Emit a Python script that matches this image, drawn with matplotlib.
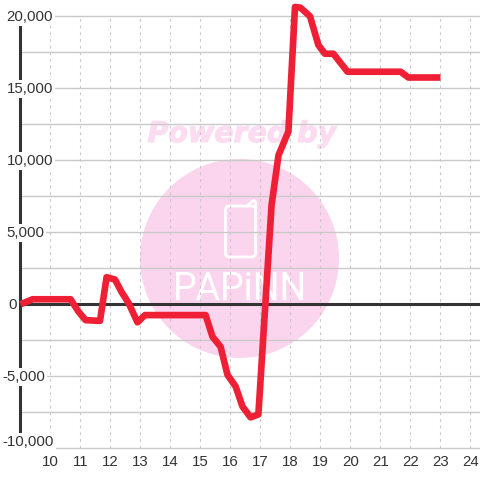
import matplotlib
matplotlib.use("Agg")
import matplotlib.pyplot as plt
import matplotlib.patheffects as pe
from matplotlib.patches import Circle, FancyBboxPatch

plt.rcParams["font.family"] = ["Liberation Sans", "DejaVu Sans"]

# values
hours = [9.0, 9.4, 10.67, 10.93, 11.17, 11.65, 11.87, 12.15, 12.37, 12.6, 12.9, 13.15,
         15.17, 15.4, 15.67, 15.9, 16.17, 16.4, 16.67, 16.93, 17.37, 17.6, 17.93,
         18.15, 18.33, 18.65, 18.93, 19.15, 19.43, 19.9, 21.67, 21.93, 23.0]
values = [0, 350, 350, -500, -1100, -1150, 1880, 1720, 850, 100, -1250, -750,
          -750, -2250, -2950, -4900, -5700, -7100, -7850, -7650, 6900, 10350, 12000,
          20650, 20600, 20000, 18000, 17400, 17400, 16150, 16150, 15750, 15750]

x_ticks = list(range(10, 25))
y_major = [20000, 15000, 10000, 5000, 0, -5000, -10000]
y_labels = ["20,000", "15,000", "10,000", "5,000", "0", "-5,000", "-10,000"]
y_label_left = [6.5, 6.5, 6.5, 6, 8, 2.5, 2.5]  # px from the left edge
y_label_shift = [-1, -1, -1, -1, -1, -1, 6]  # px up
y_minor = [17500, 12500, 7500, 2500, -2500, -7500]

PX = 0.72  # points per pixel at dpi 100
GRID = "#c9c9c9"
DARK = "#333333"
WATER = "#fcdcf1"

fig = plt.figure(figsize=(4.8, 4.8), dpi=100, facecolor="white")

# watermark behind the chart, in pixel coordinates
bg = fig.add_axes([0, 0, 1, 1], zorder=0)
bg.set_xlim(0, 480)
bg.set_ylim(480, 0)
bg.axis("off")
bg.add_patch(Circle((239.5, 258.5), 99.5, color="#fbd5ee", lw=0))
bg.text(242, 134, "Powered by", color=WATER, fontsize=20.5, family="DejaVu Sans",
        weight="bold", style="oblique", ha="center", va="center",
        path_effects=[pe.withStroke(linewidth=0.8, foreground=WATER)])
bg.add_patch(FancyBboxPatch((225.5, 206), 30, 51, boxstyle="round,pad=0,rounding_size=4",
                            fc="none", ec="white", lw=2.0))
bg.plot([247, 252, 254, 255.5, 255.5], [206, 201.5, 200.5, 202, 212], color="white", lw=2.0)
bg.text(240, 289, "PAPiNN", color="white", fontsize=27, family="Roboto",
        ha="center", va="center")

# main axes: bottom edge sits on -10,000, top edge runs off the image
ax = fig.add_axes([0, 31.7 / 480, 1, 448.3 / 480], zorder=1)
ax.patch.set_alpha(0)
ax.set_xlim(8.317, 24.317)
ax.set_ylim(-10000, 21132)

ax.hlines(y_major + y_minor, 9, 24.317, color=GRID, lw=1.0, zorder=1, clip_on=False)
ax.vlines(x_ticks, -10000, 20000, color=GRID, lw=0.8, linestyles=(0, (2.5, 3.5)), zorder=1)
ax.axhline(0, xmin=(9 - 8.317) / 16, color=DARK, lw=2.2, zorder=2)

for name in ["top", "right", "bottom"]:
    ax.spines[name].set_visible(False)
ax.spines["left"].set_position(("data", 9))
ax.spines["left"].set_bounds(-10000, 20000)
ax.spines["left"].set_color(DARK)
ax.spines["left"].set_linewidth(2.2)
ax.spines["left"].set_zorder(2)

ax.plot(hours, values, color="#ef2036", lw=4.8, solid_joinstyle="round",
        solid_capstyle="butt", zorder=5, clip_on=False)

ax.set_yticks([])
ax.set_xticks(x_ticks)
ax.tick_params(axis="x", length=0, pad=4.8, labelsize=10.8, labelcolor=DARK)

for val, lab, left, shift in zip(y_major, y_labels, y_label_left, y_label_shift):
    bbox = dict(fc="white", ec="none", pad=1.4)
    if lab == "0":
        bbox = None
    ax.annotate(lab, xy=(0, val), xycoords=ax.get_yaxis_transform(),
                xytext=(left * PX, shift * PX), textcoords="offset points",
                ha="left", va="center", fontsize=10.8, color=DARK, bbox=bbox, zorder=4)

fig.savefig("out.png", dpi=100)
